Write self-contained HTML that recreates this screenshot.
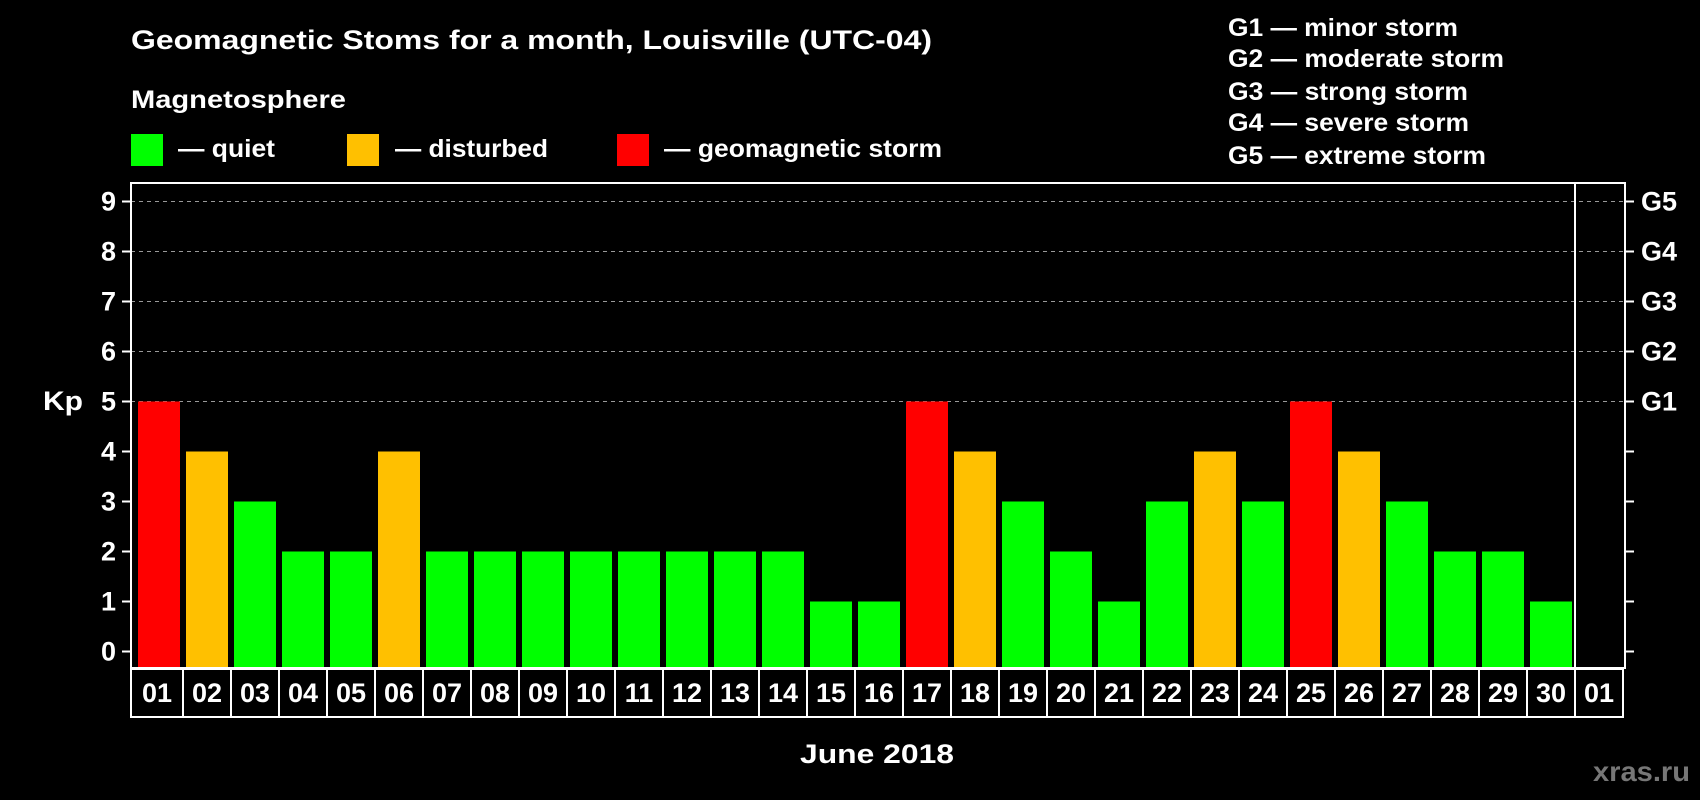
<!DOCTYPE html>
<html><head><meta charset="utf-8"><style>
html,body{margin:0;padding:0;background:#000;}
svg{display:block;font-family:"Liberation Sans",Arial,sans-serif;font-weight:bold;}
</style></head><body>
<svg id="chart" width="1700" height="800" viewBox="0 0 1700 800" xmlns="http://www.w3.org/2000/svg">
<rect x="0" y="0" width="1700" height="800" fill="#000"/>
<text x="131" y="49" fill="#fff" font-size="27" textLength="801" lengthAdjust="spacingAndGlyphs">Geomagnetic Stoms for a month, Louisville (UTC-04)</text>
<text x="131" y="108" fill="#fff" font-size="25" textLength="215" lengthAdjust="spacingAndGlyphs">Magnetosphere</text>
<rect x="131" y="134" width="32" height="32" fill="#00ff00"/>
<text x="178" y="157" fill="#fff" font-size="25" textLength="97" lengthAdjust="spacingAndGlyphs">— quiet</text>
<rect x="347" y="134" width="32" height="32" fill="#ffc000"/>
<text x="395" y="157" fill="#fff" font-size="25" textLength="153" lengthAdjust="spacingAndGlyphs">— disturbed</text>
<rect x="617" y="134" width="32" height="32" fill="#ff0000"/>
<text x="664" y="157" fill="#fff" font-size="25" textLength="278" lengthAdjust="spacingAndGlyphs">— geomagnetic storm</text>
<text x="1228" y="36" fill="#fff" font-size="25" textLength="230" lengthAdjust="spacingAndGlyphs">G1 — minor storm</text>
<text x="1228" y="67" fill="#fff" font-size="25" textLength="276" lengthAdjust="spacingAndGlyphs">G2 — moderate storm</text>
<text x="1228" y="100" fill="#fff" font-size="25" textLength="240" lengthAdjust="spacingAndGlyphs">G3 — strong storm</text>
<text x="1228" y="131" fill="#fff" font-size="25" textLength="241" lengthAdjust="spacingAndGlyphs">G4 — severe storm</text>
<text x="1228" y="164" fill="#fff" font-size="25" textLength="258" lengthAdjust="spacingAndGlyphs">G5 — extreme storm</text>
<text x="43" y="410" fill="#fff" font-size="27" textLength="40" lengthAdjust="spacingAndGlyphs">Kp</text>
<text x="877" y="763" fill="#fff" font-size="27" text-anchor="middle" textLength="154" lengthAdjust="spacingAndGlyphs">June 2018</text>
<text x="1593" y="781" fill="#777" font-size="28" textLength="97" lengthAdjust="spacingAndGlyphs">xras.ru</text>
<g id="plot"></g>
</svg>
<script>
const days = ["01","02","03","04","05","06","07","08","09","10","11","12","13","14","15","16","17","18","19","20","21","22","23","24","25","26","27","28","29","30","01"];
const kpValues = [5,4,3,2,2,4,2,2,2,2,2,2,2,2,1,1,5,4,3,2,1,3,4,3,5,4,3,2,2,1];
const yTicks = [0,1,2,3,4,5,6,7,8,9];
const gLabels = ["G1","G2","G3","G4","G5"];
const gLevels = [5,6,7,8,9];

const NS = "http://www.w3.org/2000/svg";
const g = document.getElementById('plot');
const L = 131, R = 1625, T = 183, B = 668, slot = 48;
function y(v){ return 651.5 - v*50; }
function x(i){ return L + i*slot; }
function mk(tag, attrs, parent){ const e = document.createElementNS(NS, tag); for (const k in attrs) e.setAttribute(k, attrs[k]); (parent||g).appendChild(e); return e; }

yTicks.forEach(v => {
  if (v >= 5) {
    const gl = mk('line', {x1:L, x2:R, y1:y(v), y2:y(v), stroke:'#999', 'stroke-width':1, 'stroke-dasharray':'4,4'});
    
    
  }
  const t1 = mk('line', {x1:L-9, x2:L, y1:y(v), y2:y(v), stroke:'#fff', 'stroke-width':2});
  
  
  const t2 = mk('line', {x1:R, x2:R+9, y1:y(v), y2:y(v), stroke:'#fff', 'stroke-width':2});
  
  
  const lb = mk('text', {x:L-15, y:y(v)+9, fill:'#fff', 'font-size':27, 'text-anchor':'end'});
  lb.textContent = v;
  
  
});
gLabels.forEach((s, i) => {
  const lb = mk('text', {x:R+16, y:y(gLevels[i])+9, fill:'#fff', 'font-size':27});
  lb.textContent = s;
  
  
});

kpValues.forEach((v, i) => {
  const col = v >= 5 ? '#ff0000' : (v >= 4 ? '#ffc000' : '#00ff00');
  const b = mk('rect', {x:x(i)+7, y:y(v), width:42, height:B - y(v), fill:col});
  
  
});

const fr = mk('rect', {x:L, y:T, width:R-L, height:B-T, fill:'none', stroke:'#fff', 'stroke-width':2});


const sep = mk('line', {x1:x(30)+4, x2:x(30)+4, y1:T, y2:B, stroke:'#fff', 'stroke-width':2});



days.forEach((d, i) => {
  const x0 = i === 0 ? L : x(i) + 4;
  const x1 = Math.min(x(i+1) + 4, 1623);
  const c = mk('rect', {x:x0, y:B+1, width:x1-x0, height:48, fill:'none', stroke:'#fff', 'stroke-width':2});
  
  
  const t = mk('text', {x:(x0+x1)/2, y:B+34, fill:'#fff', 'font-size':27, 'text-anchor':'middle'});
  t.textContent = d;
  
  
});
</script>
</body></html>
